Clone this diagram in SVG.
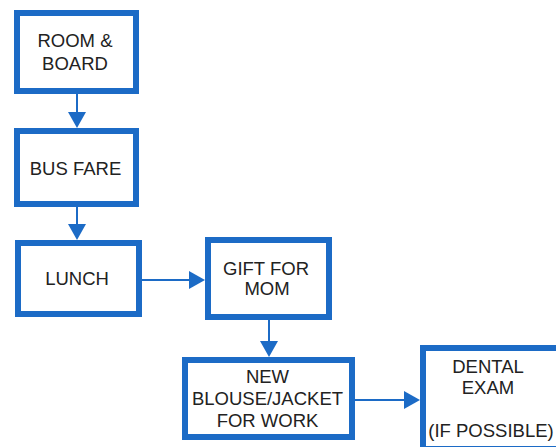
<svg xmlns="http://www.w3.org/2000/svg" width="556" height="447" viewBox="0 0 556 447">
<style>
.box{fill:#fff;stroke:#1c6bc6;stroke-width:6}
.lbl{font-family:"Liberation Sans",Arial,sans-serif;font-size:18.5px;fill:#222;text-anchor:middle}
.con{stroke:#1c6bc6;stroke-width:2;fill:none}
.head{fill:#1c6bc6}
</style>
<rect width="556" height="447" fill="#fff"/>
<g id="connectors">
<line class="con" x1="77" y1="94" x2="77" y2="114"/>
<polygon class="head" points="68,112 86,112 77,128"/>
<line class="con" x1="77" y1="207" x2="77" y2="226"/>
<polygon class="head" points="68,224 86,224 77,240"/>
<line class="con" x1="142" y1="280" x2="191" y2="280"/>
<polygon class="head" points="189,271 189,289 205,280"/>
<line class="con" x1="269" y1="320" x2="269" y2="343"/>
<polygon class="head" points="260,341 278,341 269,357"/>
<line class="con" x1="355" y1="400" x2="406" y2="400"/>
<polygon class="head" points="404,391 404,409 420,400"/>
</g>
<g id="room-board">
<rect class="box" x="17" y="13" width="119" height="78"/>
<text class="lbl" x="75" y="47">ROOM &amp;</text>
<text class="lbl" x="75" y="70">BOARD</text>
</g>
<g id="bus-fare">
<rect class="box" x="17" y="131" width="119" height="73"/>
<text class="lbl" x="75.5" y="175">BUS FARE</text>
</g>
<g id="lunch">
<rect class="box" x="18" y="243" width="121" height="71"/>
<text class="lbl" x="77" y="285">LUNCH</text>
</g>
<g id="gift-for-mom">
<rect class="box" x="208" y="240" width="121" height="77"/>
<text class="lbl" x="266" y="275">GIFT FOR</text>
<text class="lbl" x="267" y="295">MOM</text>
</g>
<g id="new-blouse">
<rect class="box" x="185" y="360" width="167" height="77"/>
<text class="lbl" x="267.5" y="383">NEW</text>
<text class="lbl" x="267.5" y="405">BLOUSE/JACKET</text>
<text class="lbl" x="267.5" y="427">FOR WORK</text>
</g>
<g id="dental-exam">
<rect class="box" x="423" y="348" width="200" height="101"/>
<text class="lbl" x="488" y="373">DENTAL</text>
<text class="lbl" x="488" y="394">EXAM</text>
<text class="lbl" x="491" y="437">(IF POSSIBLE)</text>
</g>
</svg>
